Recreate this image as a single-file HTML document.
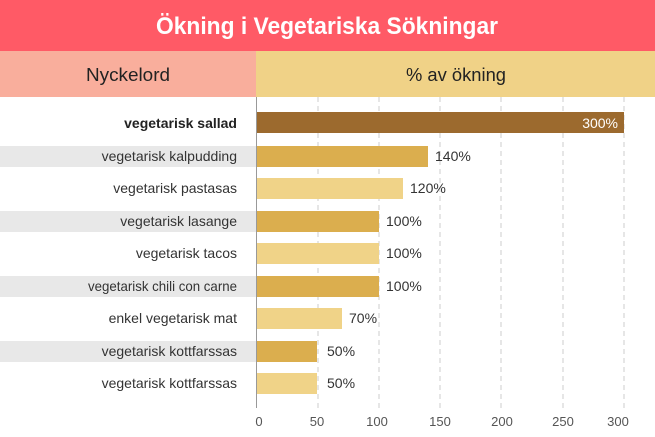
<!DOCTYPE html>
<html><head><meta charset="utf-8"><style>body{margin:0}svg{display:block;font-family:"Liberation Sans",sans-serif}</style></head><body>
<svg width="655" height="437" viewBox="0 0 655 437" xmlns="http://www.w3.org/2000/svg">
<rect width="655" height="437" fill="#fff"/>
<rect width="655" height="51" fill="#FF5A66"/>
<text x="327" y="34" text-anchor="middle" fill="#fff" font-size="24" font-weight="bold" textLength="342" lengthAdjust="spacingAndGlyphs">Ökning i Vegetariska Sökningar</text>
<rect x="0" y="51" width="256" height="46" fill="#F9AE9C"/>
<rect x="256" y="51" width="399" height="46" fill="#F0D287"/>
<text x="128" y="81" text-anchor="middle" fill="#222" font-size="18" textLength="84" lengthAdjust="spacingAndGlyphs">Nyckelord</text>
<text x="456" y="81" text-anchor="middle" fill="#222" font-size="18" textLength="100" lengthAdjust="spacingAndGlyphs">% av ökning</text>
<g fill="#e8e8e8">
<rect x="0" y="146" width="256" height="21"/><rect x="0" y="211" width="256" height="21"/><rect x="0" y="276" width="256" height="21"/><rect x="0" y="341" width="256" height="21"/>
</g>
<g stroke="#ccc" stroke-dasharray="5,4">
<line x1="318" y1="97" x2="318" y2="408"/><line x1="379" y1="97" x2="379" y2="408"/><line x1="440" y1="97" x2="440" y2="408"/><line x1="501" y1="97" x2="501" y2="408"/><line x1="563" y1="97" x2="563" y2="408"/><line x1="624" y1="97" x2="624" y2="408"/>
</g>
<g>
<rect x="256" y="112" width="368" height="21" fill="#9C6A2E"/>
<rect x="256" y="146" width="172" height="21" fill="#DBAE4E"/>
<rect x="256" y="178" width="147" height="21" fill="#F0D388"/>
<rect x="256" y="211" width="123" height="21" fill="#DBAE4E"/>
<rect x="256" y="243" width="123" height="21" fill="#F0D388"/>
<rect x="256" y="276" width="123" height="21" fill="#DBAE4E"/>
<rect x="256" y="308" width="86" height="21" fill="#F0D388"/>
<rect x="256" y="341" width="61" height="21" fill="#DBAE4E"/>
<rect x="256" y="373" width="61" height="21" fill="#F0D388"/>
</g>
<line x1="256.5" y1="97" x2="256.5" y2="408" stroke="#999"/>
<g font-size="14" fill="#333" text-anchor="end">
<text x="237" y="128" font-weight="bold" fill="#222">vegetarisk sallad</text>
<text x="237" y="161">vegetarisk kalpudding</text>
<text x="237" y="193">vegetarisk pastasas</text>
<text x="237" y="226">vegetarisk lasange</text>
<text x="237" y="258">vegetarisk tacos</text>
<text x="237" y="291" textLength="149" lengthAdjust="spacingAndGlyphs">vegetarisk chili con carne</text>
<text x="237" y="323">enkel vegetarisk mat</text>
<text x="237" y="356">vegetarisk kottfarssas</text>
<text x="237" y="388">vegetarisk kottfarssas</text>
</g>
<g font-size="14" fill="#333">
<text x="618" y="128" fill="#fff" text-anchor="end">300%</text>
<text x="435" y="161">140%</text>
<text x="410" y="193">120%</text>
<text x="386" y="226">100%</text>
<text x="386" y="258">100%</text>
<text x="386" y="291">100%</text>
<text x="349" y="323">70%</text>
<text x="327" y="356">50%</text>
<text x="327" y="388">50%</text>
</g>
<g font-size="13" fill="#555" text-anchor="middle">
<text x="259" y="426">0</text><text x="317" y="426">50</text><text x="377" y="426">100</text><text x="440" y="426">150</text><text x="502" y="426">200</text><text x="563" y="426">250</text><text x="618" y="426">300</text>
</g>
</svg>
</body></html>
